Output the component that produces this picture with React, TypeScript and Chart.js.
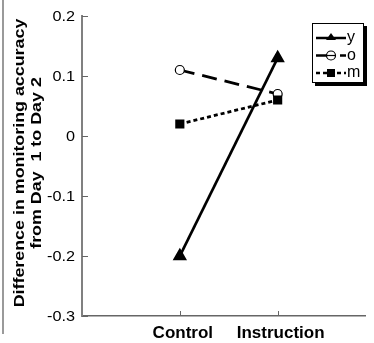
import React, { useEffect, useRef } from "react";
import { Chart, registerables } from "chart.js";

Chart.register(...registerables);

const categories = ["Control", "Instruction"];
const categoryPositions = [1, 2];
const seriesNames = ["y", "o", "m"];
const yValues = [-0.2, 0.13];
const oValues = [0.11, 0.07];
const mValues = [0.02, 0.06];
const yTickValues = [0.2, 0.1, 0, -0.1, -0.2, -0.3];
const yTitleLines = ["Difference in monitoring accuracy", "from Day  1 to Day 2"];

const FONT = "'Liberation Sans', Arial, Helvetica, sans-serif";

const decorPlugin = {
  id: "decor",
  afterDraw(chart: any) {
    const ctx = chart.ctx;
    const xs = chart.scales.x;
    const ys = chart.scales.y;
    const area = chart.chartArea;
    ctx.save();
    // left frame line
    ctx.strokeStyle = "#9a9a9a";
    ctx.lineWidth = 2;
    ctx.beginPath();
    ctx.moveTo(3, 0);
    ctx.lineTo(3, 334);
    ctx.stroke();
    // inward x ticks
    ctx.strokeStyle = "#666";
    ctx.lineWidth = 1;
    categoryPositions.forEach((v) => {
      const px = Math.round(xs.getPixelForValue(v)) + 0.5;
      ctx.beginPath();
      ctx.moveTo(px, area.bottom);
      ctx.lineTo(px, area.bottom - 5);
      ctx.stroke();
    });
    // inward y ticks + labels
    yTickValues.forEach((v) => {
      const py = Math.round(ys.getPixelForValue(v)) + 0.5;
      ctx.strokeStyle = "#666";
      ctx.beginPath();
      ctx.moveTo(area.left, py);
      ctx.lineTo(area.left + 6, py);
      ctx.stroke();
      ctx.save();
      ctx.fillStyle = "#000";
      ctx.font = `14.5px ${FONT}`;
      ctx.textAlign = "right";
      ctx.textBaseline = "middle";
      ctx.translate(75, py);
      ctx.scale(1.12, 1);
      ctx.fillText(String(Number(v.toFixed(1))), 0, 0);
      ctx.restore();
    });
    // y title
    const cy = 163;
    ctx.fillStyle = "#000";
    ctx.font = `bold 15px ${FONT}`;
    ctx.textAlign = "center";
    ctx.textBaseline = "middle";
    const xsPos = [20, 37];
    yTitleLines.forEach((t, i) => {
      ctx.save();
      ctx.translate(xsPos[i], cy);
      ctx.rotate(-Math.PI / 2);
      ctx.scale(1.19, 1);
      ctx.fillText(t, 0, 0);
      ctx.restore();
    });
    // legend
    const bx = 312, by = 23, bw = 52, bh = 60;
    ctx.fillStyle = "#000";
    ctx.fillRect(bx + 3, by + 3, bw, bh);
    ctx.fillStyle = "#fff";
    ctx.fillRect(bx, by, bw, bh);
    ctx.strokeStyle = "#000";
    ctx.lineWidth = 1;
    ctx.strokeRect(bx + 0.5, by + 0.5, bw - 1, bh - 1);
    const rows = [38, 55.5, 73];
    const dashes = [[], [14, 10], [4, 3]];
    chart.data.datasets.forEach((ds: any, i: number) => {
      const ry = rows[i];
      ctx.save();
      ctx.strokeStyle = "#000";
      ctx.lineWidth = 2.5;
      ctx.setLineDash(dashes[i]);
      ctx.beginPath();
      ctx.moveTo(316, ry);
      ctx.lineTo(346, ry);
      ctx.stroke();
      ctx.setLineDash([]);
      ctx.lineWidth = 1.2;
      if (ds.pointStyle === "triangle") {
        ctx.fillStyle = "#000";
        ctx.beginPath();
        ctx.moveTo(331, ry - 5);
        ctx.lineTo(336, ry + 2);
        ctx.lineTo(326, ry + 2);
        ctx.closePath();
        ctx.fill();
      } else if (ds.pointStyle === "circle") {
        ctx.fillStyle = "#fff";
        ctx.beginPath();
        ctx.arc(331, ry, 4.5, 0, Math.PI * 2);
        ctx.fill();
        ctx.stroke();
        ctx.beginPath();
        ctx.moveTo(326.5, ry);
        ctx.lineTo(335.5, ry);
        ctx.stroke();
      } else {
        ctx.fillStyle = "#000";
        ctx.fillRect(327, ry - 4, 8, 8);
      }
      ctx.fillStyle = "#000";
      ctx.font = `16px ${FONT}`;
      ctx.textAlign = "left";
      ctx.textBaseline = "middle";
      ctx.fillText(seriesNames[i], 347, ry);
      ctx.restore();
    });
    ctx.restore();
  },
};

export default function App() {
  const ref = useRef<HTMLCanvasElement>(null);
  useEffect(() => {
    document.body.style.margin = "0";
    const mk = (vals: number[]) => vals.map((v, i) => ({ x: categoryPositions[i], y: v }));
    const chart = new Chart(ref.current!, {
      type: "line",
      data: {
        datasets: [
          {
            label: seriesNames[0],
            data: mk(yValues),
            borderColor: "#000",
            backgroundColor: "#000",
            borderWidth: 2.8,
            pointStyle: "triangle",
            pointRadius: 5.5,
            pointBackgroundColor: "#000",
            pointBorderColor: "#000",
            order: 0,
          },
          {
            label: seriesNames[1],
            data: mk(oValues),
            borderColor: "#000",
            borderWidth: 2.8,
            borderDash: [15, 8],
            pointStyle: "circle",
            pointRadius: 4.5,
            pointBackgroundColor: "#fff",
            pointBorderColor: "#000",
            pointBorderWidth: 1.2,
            order: 2,
          },
          {
            label: seriesNames[2],
            data: mk(mValues),
            borderColor: "#000",
            borderWidth: 2.8,
            borderDash: [4, 3],
            pointStyle: "rect",
            pointRadius: 4.5,
            pointBackgroundColor: "#000",
            pointBorderColor: "#000",
            order: 1,
          },
        ] as any,
      },
      options: {
        animation: false,
        responsive: false,
        maintainAspectRatio: false,
        layout: { padding: { top: 16, left: 0, right: 0, bottom: 0 } },
        plugins: { legend: { display: false }, tooltip: { enabled: false } },
        elements: { line: { tension: 0 } },
        scales: {
          x: {
            type: "linear",
            min: 0,
            max: 2.9,
            afterBuildTicks: (s: any) => {
              s.ticks = categoryPositions.map((v) => ({ value: v }));
            },
            afterFit: (s: any) => {
              s.height = 27;
            },
            ticks: {
              autoSkip: false,
              maxRotation: 0,
              padding: 7,
              labelOffset: 3,
              color: "#000",
              font: { family: FONT, size: 17, weight: "bold" },
              callback: (v: any) => {
                const i = categoryPositions.indexOf(Number(v));
                return i >= 0 ? categories[i] : "";
              },
            },
            grid: { drawOnChartArea: false, drawTicks: false },
            border: { display: true, color: "#666", width: 1.5 },
          },
          y: {
            type: "linear",
            min: -0.3,
            max: 0.2,
            afterBuildTicks: (s: any) => {
              s.ticks = yTickValues.map((v) => ({ value: v }));
            },
            afterFit: (s: any) => {
              s.width = 82;
            },
            ticks: { display: false },
            grid: { drawOnChartArea: false, drawTicks: false },
            border: { display: true, color: "#808080", width: 2 },
          },
        },
      },
      plugins: [decorPlugin],
    });
    return () => chart.destroy();
  }, []);
  return (
    <div style={{ width: 374, height: 343 }}>
      <canvas ref={ref} width={374} height={343} style={{ display: "block" }} />
    </div>
  );
}
